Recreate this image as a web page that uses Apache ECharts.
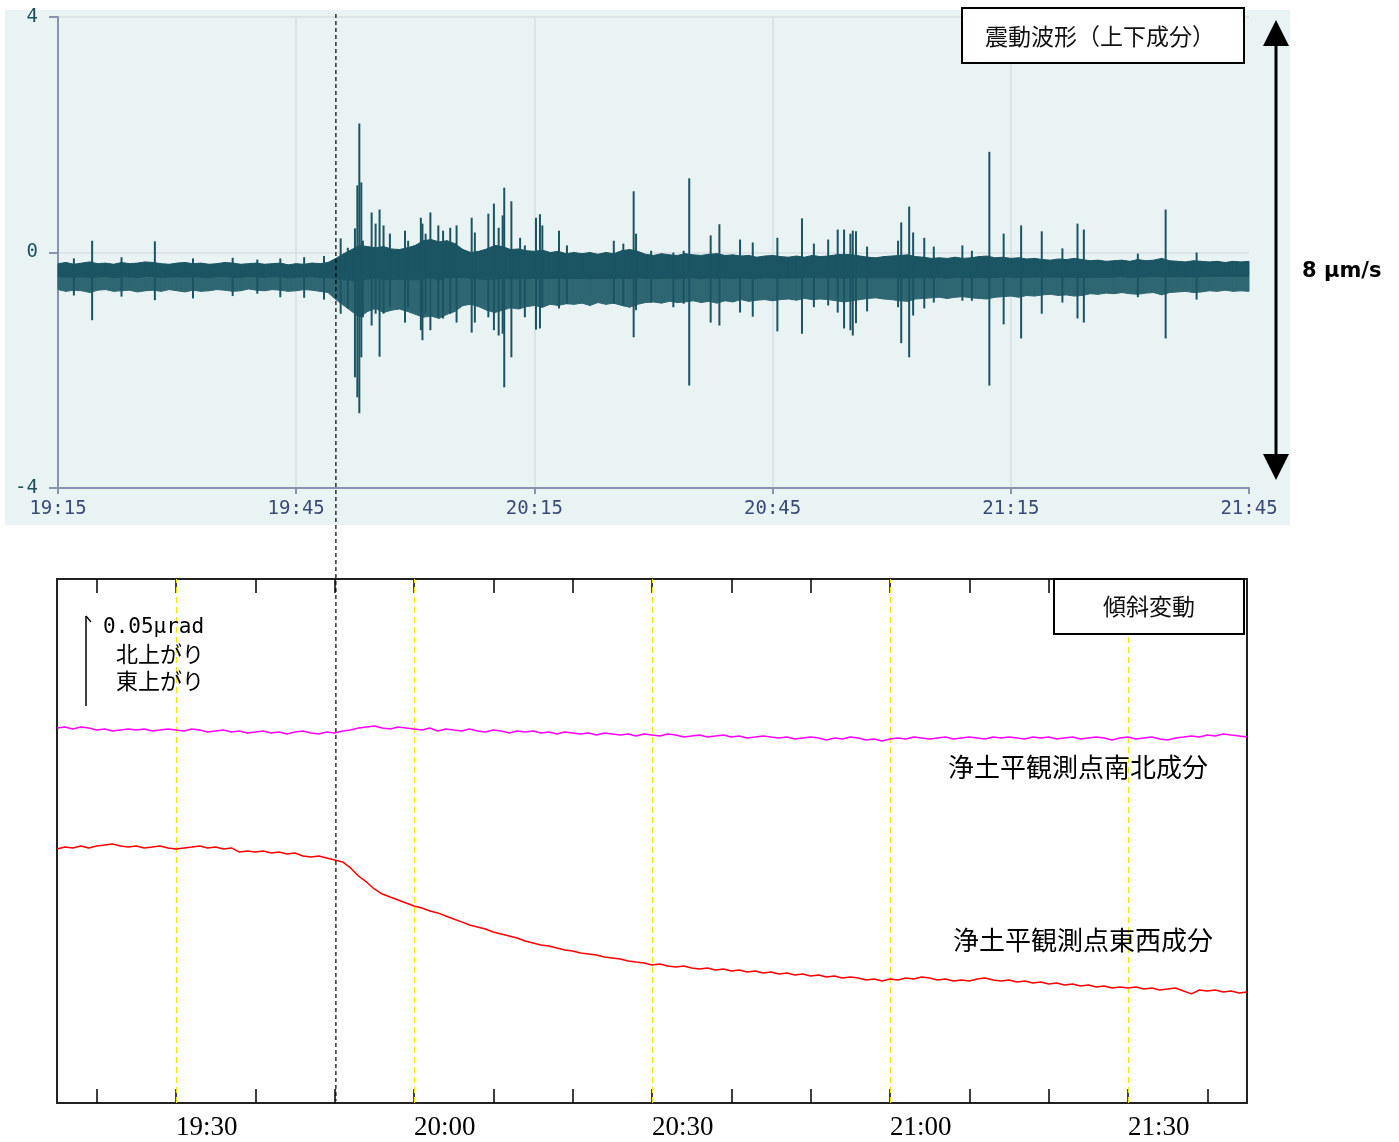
<!DOCTYPE html>
<html><head><meta charset="utf-8">
<script src="https://cdn.jsdelivr.net/npm/echarts@6/dist/echarts.min.js"></script>
<style>html,body{margin:0;padding:0;background:#fff}#c{width:1399px;height:1142px}</style>
</head><body><div id="c"></div><script>
// Time axis: minutes after 19:15 (0 .. 150 = 21:45), 1-minute steps
const minutes = Array.from({length: 151}, (_, i) => i);
const topTickLabels = ['19:15', '19:45', '20:15', '20:45', '21:15', '21:45'];
const bottomTickLabels = ['19:30', '20:00', '20:30', '21:00', '21:30'];
const bottomLabelMinutes = [15, 45, 75, 105, 135];
const bottomTickMinutes = [5, 15, 25, 35, 45, 55, 65, 75, 85, 95, 105, 115, 125, 135, 145];
const eventMinute = 35; // 19:50

// Seismic waveform (vertical), μm/s — envelope of the dense trace, one value per minute
const waveUpper = [
-0.19,-0.17,-0.2,-0.18,-0.16,-0.19,-0.18,-0.2,-0.17,-0.19,-0.18,-0.16,-0.17,-0.19,-0.2,-0.18,-0.17,-0.19,-0.18,-0.2,
-0.19,-0.17,-0.18,-0.2,-0.19,-0.18,-0.2,-0.19,-0.18,-0.21,-0.19,-0.2,-0.18,-0.19,-0.17,
-0.1,-0.02,0.05,0.12,0.1,0.08,0.1,0.06,0.05,0.08,0.12,0.2,0.22,0.18,0.2,0.15,0.05,0.0,0.02,0.06,
0.12,0.1,0.05,0.06,0.03,0.02,0.04,0.0,0.02,-0.02,0.0,-0.02,0.0,-0.03,0.0,-0.02,0.03,0.05,0.02,-0.03,
-0.05,-0.02,-0.04,-0.05,-0.02,-0.04,-0.05,-0.03,-0.02,-0.05,-0.04,-0.06,-0.05,-0.08,-0.06,-0.05,-0.07,-0.08,-0.06,-0.08,
-0.05,-0.07,-0.06,-0.04,-0.03,-0.04,-0.06,-0.08,-0.09,-0.07,-0.06,-0.05,-0.04,-0.07,-0.08,-0.1,-0.09,-0.1,-0.08,-0.1,
-0.09,-0.07,-0.06,-0.09,-0.08,-0.1,-0.09,-0.11,-0.1,-0.12,-0.13,-0.11,-0.12,-0.1,-0.12,-0.14,-0.13,-0.15,-0.14,-0.13,
-0.15,-0.12,-0.14,-0.13,-0.1,-0.14,-0.15,-0.16,-0.14,-0.15,-0.16,-0.15,-0.17,-0.15,-0.16,-0.15
];
const waveLower = [
-0.63,-0.66,-0.64,-0.65,-0.68,-0.64,-0.63,-0.66,-0.65,-0.64,-0.67,-0.65,-0.64,-0.66,-0.63,-0.65,-0.67,-0.64,-0.66,-0.65,
-0.63,-0.64,-0.66,-0.65,-0.62,-0.64,-0.65,-0.63,-0.64,-0.66,-0.65,-0.63,-0.64,-0.66,-0.68,
-0.8,-0.9,-1.0,-1.1,-1.0,-0.95,-1.02,-0.98,-0.96,-1.0,-1.05,-1.1,-1.08,-1.12,-1.05,-1.0,-0.9,-0.88,-0.92,-0.98,
-1.02,-0.98,-0.94,-0.96,-0.92,-0.9,-0.93,-0.88,-0.9,-0.87,-0.88,-0.86,-0.9,-0.85,-0.88,-0.86,-0.9,-0.93,-0.88,-0.85,
-0.84,-0.86,-0.83,-0.85,-0.84,-0.82,-0.85,-0.83,-0.86,-0.82,-0.84,-0.8,-0.83,-0.81,-0.8,-0.82,-0.8,-0.79,-0.81,-0.78,
-0.8,-0.79,-0.8,-0.82,-0.84,-0.82,-0.8,-0.78,-0.77,-0.79,-0.8,-0.82,-0.83,-0.79,-0.78,-0.77,-0.76,-0.78,-0.76,-0.75,
-0.77,-0.78,-0.79,-0.76,-0.75,-0.74,-0.76,-0.73,-0.74,-0.72,-0.71,-0.73,-0.72,-0.74,-0.73,-0.7,-0.71,-0.69,-0.7,-0.68,
-0.7,-0.71,-0.69,-0.68,-0.72,-0.68,-0.67,-0.66,-0.68,-0.67,-0.65,-0.66,-0.64,-0.66,-0.65,-0.66
];
// Individual spikes: [minute, top μm/s, bottom μm/s]
const waveSpikes = [
[2,-0.1,-0.73],[4.3,0.2,-1.15],[8,-0.08,-0.75],[12.2,0.19,-0.81],[17,-0.1,-0.78],[22,-0.09,-0.74],[25.1,-0.12,-0.7],
[28,-0.1,-0.76],[31,-0.08,-0.77],[33.5,-0.06,-0.8],
[35.6,0.24,-1.04],[36.5,0.08,-0.95],[37.4,0.41,-2.12],[37.7,1.14,-2.46],[37.95,2.19,-2.73],[38.2,1.19,-1.78],[38.4,0.2,-1.1],
[39.5,0.68,-1.24],[40.0,0.49,-1.04],[40.5,0.73,-1.77],[41.0,0.46,-1.04],[41.8,0.32,-0.93],[43.7,0.37,-1.19],[44.1,0.2,-0.93],
[45.7,0.59,-1.32],[45.9,0.49,-1.49],[46.3,0.32,-1.04],[46.9,0.68,-1.32],[47.9,0.46,-1.1],[48.5,0.37,-1.12],[49.4,0.42,-1.04],
[50.2,0.46,-1.19],[52.1,0.59,-1.36],[52.5,0.34,-1.19],[54.2,0.66,-1.1],[54.9,0.83,-1.32],[55.5,0.42,-1.41],[56.0,0.63,-1.38],
[56.2,1.1,-2.29],[57.1,0.87,-1.78],[58.2,0.25,-0.95],[58.8,0.12,-1.1],[60.2,0.59,-1.31],[60.7,0.65,-1.29],[61.0,0.46,-0.93],
[63.1,0.37,-0.95],[64.1,0.12,-0.87],
[70,0.2,-0.87],[71.2,0.15,-0.9],[72.5,1.04,-1.44],[72.8,0.32,-0.98],[74.7,0.03,-0.85],[77.5,0.0,-0.93],[78.8,0.03,-0.87],
[79.5,1.26,-2.26],[82.2,0.29,-1.19],[83.3,0.48,-1.24],[85.9,0.22,-1.02],[87.5,0.17,-1.09],[90.6,0.25,-1.34],[93.7,0.58,-1.38],
[95.2,0.15,-0.93],[97,0.22,-0.9],[98.2,0.39,-1.02],[99,0.39,-1.29],[99.8,0.32,-1.32],[100.1,0.37,-1.41],[100.5,0.36,-1.2],
[101.9,0.1,-1.0],[105.8,0.2,-0.93],[106.2,0.51,-1.54],[107.2,0.78,-1.78],[107.7,0.34,-1.07],[109.1,0.25,-0.95],[110.3,0.1,-0.85],
[113.9,0.12,-0.82],[115.1,0.03,-0.82],[117.3,1.71,-2.26],[119.1,0.32,-1.22],[121.3,0.46,-1.46],[123.9,0.36,-1.04],
[126.5,0.07,-0.85],[128.4,0.49,-1.12],[129.2,0.39,-1.19],[136,-0.02,-0.76],[139.5,0.73,-1.46],[143.4,0.0,-0.8]
];

// Tilt (nrad, relative), one value per minute
const tiltNS = [
208.3,208.9,207.8,208.9,208.3,207.2,207.8,206.7,207.2,207.8,207.2,207.8,206.7,207.2,207.8,207.2,206.7,207.8,207.2,206.1,
206.7,207.2,206.1,206.7,205.6,206.1,206.7,205.6,206.1,205.0,206.1,206.7,205.6,205.0,206.1,205.6,206.7,207.2,208.3,208.9,
209.4,208.3,207.8,208.9,208.3,207.8,207.2,208.3,206.7,207.8,207.2,206.7,207.8,206.7,206.1,207.2,206.7,205.6,206.7,206.1,
206.7,205.6,206.1,205.0,206.1,205.6,205.0,205.6,204.4,205.6,205.0,204.4,205.0,203.9,205.0,204.4,203.9,205.0,204.4,203.3,
203.9,204.4,203.3,203.9,204.4,203.3,203.9,202.8,203.3,203.9,203.3,202.8,203.3,202.2,202.8,203.3,202.8,201.7,202.8,202.2,
203.3,202.8,201.7,202.2,201.1,202.2,202.8,202.2,203.3,202.8,202.2,202.8,203.3,202.2,202.8,203.3,202.8,202.2,203.3,202.8,
203.3,202.8,202.2,203.3,202.8,203.3,202.2,202.8,203.3,202.2,202.8,203.3,202.8,201.7,202.8,203.3,202.2,202.8,203.3,202.2,
201.7,202.8,203.3,203.9,203.3,204.4,203.9,205.0,204.4,203.9,203.3
];
const tiltEW = [
141.1,142.2,141.7,142.8,141.7,142.8,143.3,143.9,142.8,142.2,142.8,141.7,142.2,142.8,141.7,141.1,141.7,142.2,142.8,141.7,
142.2,141.1,141.7,139.4,140.0,139.4,140.0,138.9,139.4,138.3,138.9,137.2,136.7,137.2,136.1,135.0,133.9,130.6,126.1,122.8,
118.9,116.1,114.4,112.8,111.1,109.4,108.3,106.7,105.6,103.9,102.2,100.6,98.9,97.8,96.7,95.0,93.9,92.8,91.7,90.0,
88.9,87.8,87.2,86.1,85.0,84.4,83.3,82.8,82.2,81.1,80.6,80.0,78.9,78.3,77.8,76.7,77.2,76.1,75.6,76.1,
75.0,74.4,75.0,73.9,74.4,73.3,73.9,72.8,73.3,72.2,72.8,71.7,72.2,71.1,71.7,70.6,71.1,70.0,70.6,69.4,
70.0,69.4,68.3,68.9,67.8,68.9,68.3,69.4,68.9,70.0,69.4,68.3,68.9,67.8,68.3,67.8,68.9,69.4,68.3,67.8,
68.3,67.2,67.8,66.7,67.2,66.1,66.7,65.6,66.1,65.0,65.6,64.4,65.0,63.9,64.4,63.9,64.4,63.3,63.9,62.8,
63.3,63.9,62.2,60.6,62.8,62.2,62.8,61.7,62.2,61.1,61.7
];
const gridLineMinutes = [15, 45, 75, 105, 135];

const cjk = "'Noto Sans CJK JP', sans-serif";
const mono = "'DejaVu Sans Mono', monospace";
const dark = '#1b5462', light = '#2e6672';

const chart = echarts.init(document.getElementById('c'), null, {renderer: 'canvas'});

function bandItem(params, api) {
  const i = params.dataIndex;
  if (i >= minutes.length - 1) return null;
  const t0 = minutes[i], t1 = minutes[i + 1];
  const u0 = waveUpper[i], u1 = waveUpper[i + 1];
  const l0 = waveLower[i], l1 = waveLower[i + 1];
  const m0 = (u0 + l0) / 2, m1 = (u1 + l1) / 2;
  const c = (t, v) => api.coord([t, v]);
  return {type: 'group', children: [
    {type: 'polygon', shape: {points: [c(t0, m0), c(t0, l0), c(t1, l1), c(t1, m1)]}, style: {fill: light, stroke: light, lineWidth: 1}},
    {type: 'polygon', shape: {points: [c(t0, u0), c(t0, m0), c(t1, m1), c(t1, u1)]}, style: {fill: dark, stroke: dark, lineWidth: 1}}
  ]};
}

chart.setOption({
  animation: false,
  backgroundColor: 'transparent',
  grid: [
    {left: 58, top: 17, width: 1191, height: 471, show: false},
    {left: 57, top: 579, width: 1190, height: 524, show: true, borderColor: '#222', borderWidth: 2, backgroundColor: '#fff'}
  ],
  xAxis: [
    {gridIndex: 0, type: 'value', min: 0, max: 150, interval: 30,
     axisLine: {onZero: false, lineStyle: {color: '#8a93ae', width: 2}},
     axisTick: {show: true, length: 6, lineStyle: {color: '#8a93ae', width: 2}},
     axisLabel: {margin: 12, color: '#3a4a78', fontFamily: mono, fontSize: 19,
       formatter: v => topTickLabels[Math.round(v / 30)]},
     splitLine: {show: true, showMinLine: false, showMaxLine: false, lineStyle: {color: '#d6e1e4', width: 1.5}}},
    {gridIndex: 1, type: 'value', min: 0, max: 150, position: 'bottom',
     axisLine: {show: false, onZero: false},
     axisTick: {show: true, inside: true, length: 14, customValues: bottomTickMinutes, lineStyle: {color: '#000', width: 1.5}},
     axisLabel: {show: true, customValues: bottomLabelMinutes, align: 'left', margin: 11, color: '#000',
       fontFamily: "'Liberation Serif', serif", fontSize: 27,
       formatter: v => bottomTickLabels[bottomLabelMinutes.indexOf(Math.round(v))]},
     splitLine: {show: false}},
    {gridIndex: 1, type: 'value', min: 0, max: 150, position: 'top',
     axisLine: {show: false, onZero: false},
     axisTick: {show: true, inside: true, length: 14, customValues: bottomTickMinutes, lineStyle: {color: '#000', width: 1.5}},
     axisLabel: {show: false}, splitLine: {show: false}}
  ],
  yAxis: [
    {gridIndex: 0, type: 'value', min: -4, max: 4, interval: 4,
     axisLine: {show: true, onZero: false, lineStyle: {color: '#8a93ae', width: 2}},
     axisTick: {show: true, length: 9, lineStyle: {color: '#8a93ae', width: 2}},
     axisLabel: {margin: 20, color: '#1d4f5c', fontFamily: mono, fontSize: 19},
     splitLine: {show: true, showMinLine: false, lineStyle: {color: '#d6e1e4', width: 1.5}}},
    {gridIndex: 1, type: 'value', min: 0, max: 291.1, show: false, splitLine: {show: false}}
  ],
  series: [
    {type: 'custom', name: 'band', xAxisIndex: 0, yAxisIndex: 0, silent: true, z: 2,
     data: minutes.map((t, i) => [t, waveUpper[i], waveLower[i]]), encode: {x: 0, y: [1, 2]},
     renderItem: bandItem},
    {type: 'custom', name: 'spikes', xAxisIndex: 0, yAxisIndex: 0, data: waveSpikes, encode: {x: 0, y: [1, 2]}, silent: true, z: 3,
     renderItem: (params, api) => {
       const a = api.coord([api.value(0), api.value(1)]);
       const b = api.coord([api.value(0), api.value(2)]);
       return {type: 'rect', shape: {x: a[0] - 1, y: a[1], width: 2, height: b[1] - a[1]}, style: {fill: dark}};
     }},
    {type: 'line', name: '南北', xAxisIndex: 1, yAxisIndex: 1, symbol: 'none', silent: true, z: 4,
     data: minutes.map((t, i) => [t, tiltNS[i]]), lineStyle: {color: '#ff00ff', width: 1.5},
     markLine: {symbol: 'none', silent: true, label: {show: false}, z: 2,
       lineStyle: {color: '#f2e600', type: [6, 4], width: 1.2},
       data: gridLineMinutes.map(m => ({xAxis: m}))}},
    {type: 'line', name: '東西', xAxisIndex: 1, yAxisIndex: 1, symbol: 'none', silent: true, z: 4,
     data: minutes.map((t, i) => [t, tiltEW[i]]), lineStyle: {color: '#ff0000', width: 1.5}}
  ]
});

const ex = chart.convertToPixel({xAxisIndex: 0}, eventMinute);

chart.setOption({
  graphic: [
    {id: 'panel', type: 'rect', z: -10, silent: true, shape: {x: 5, y: 10, width: 1285, height: 515}, style: {fill: '#e9f3f4'}},
    {id: 'evt', type: 'line', z: 100, silent: true, shape: {x1: ex, y1: 14, x2: ex, y2: 1101},
     style: {stroke: '#000', lineWidth: 1.2, lineDash: [4, 3]}},
    {id: 'box1', type: 'rect', z: 90, shape: {x: 962, y: 8, width: 282, height: 55}, style: {fill: '#fff', stroke: '#000', lineWidth: 2}},
    {id: 'box1t', type: 'text', z: 91, x: 1100, y: 36, style: {text: '震動波形（上下成分）', font: '23px ' + cjk, fill: '#111', align: 'center', verticalAlign: 'middle'}},
    {id: 'arrL', type: 'line', z: 90, shape: {x1: 1276, y1: 40, x2: 1276, y2: 460}, style: {stroke: '#000', lineWidth: 3}},
    {id: 'arrT', type: 'polygon', z: 90, shape: {points: [[1276, 20], [1263, 46], [1289, 46]]}, style: {fill: '#000'}},
    {id: 'arrB', type: 'polygon', z: 90, shape: {points: [[1276, 480], [1263, 454], [1289, 454]]}, style: {fill: '#000'}},
    {id: 'scale1', type: 'text', z: 90, x: 1302, y: 272, style: {text: '8 μm/s', font: 'bold 21px "DejaVu Sans", sans-serif', fill: '#000', align: 'left', verticalAlign: 'middle'}},
    {id: 'box2', type: 'rect', z: 90, shape: {x: 1054, y: 579, width: 190, height: 55}, style: {fill: '#fff', stroke: '#000', lineWidth: 2}},
    {id: 'box2t', type: 'text', z: 91, x: 1149, y: 606, style: {text: '傾斜変動', font: '23px ' + cjk, fill: '#111', align: 'center', verticalAlign: 'middle'}},
    {id: 'sa', type: 'line', z: 90, shape: {x1: 86, y1: 616, x2: 86, y2: 706}, style: {stroke: '#000', lineWidth: 1.5}},
    {id: 'sah', type: 'line', z: 90, shape: {x1: 86, y1: 616, x2: 91, y2: 622}, style: {stroke: '#000', lineWidth: 1.2}},
    {id: 'l1', type: 'text', z: 90, x: 103, y: 628, style: {text: '0.05μrad', font: '21px ' + mono + ", 'Noto Sans CJK JP'", fill: '#000', verticalAlign: 'middle'}},
    {id: 'l2', type: 'text', z: 90, x: 116, y: 654, style: {text: '北上がり', font: '22px ' + cjk, fill: '#000', verticalAlign: 'middle'}},
    {id: 'l3', type: 'text', z: 90, x: 116, y: 681, style: {text: '東上がり', font: '22px ' + cjk, fill: '#000', verticalAlign: 'middle'}},
    {id: 'n1', type: 'text', z: 90, x: 1208, y: 767, style: {text: '浄土平観測点南北成分', font: '26px ' + cjk, fill: '#000', align: 'right', verticalAlign: 'middle'}},
    {id: 'n2', type: 'text', z: 90, x: 1213, y: 940, style: {text: '浄土平観測点東西成分', font: '26px ' + cjk, fill: '#000', align: 'right', verticalAlign: 'middle'}}
  ]
});
</script></body></html>
